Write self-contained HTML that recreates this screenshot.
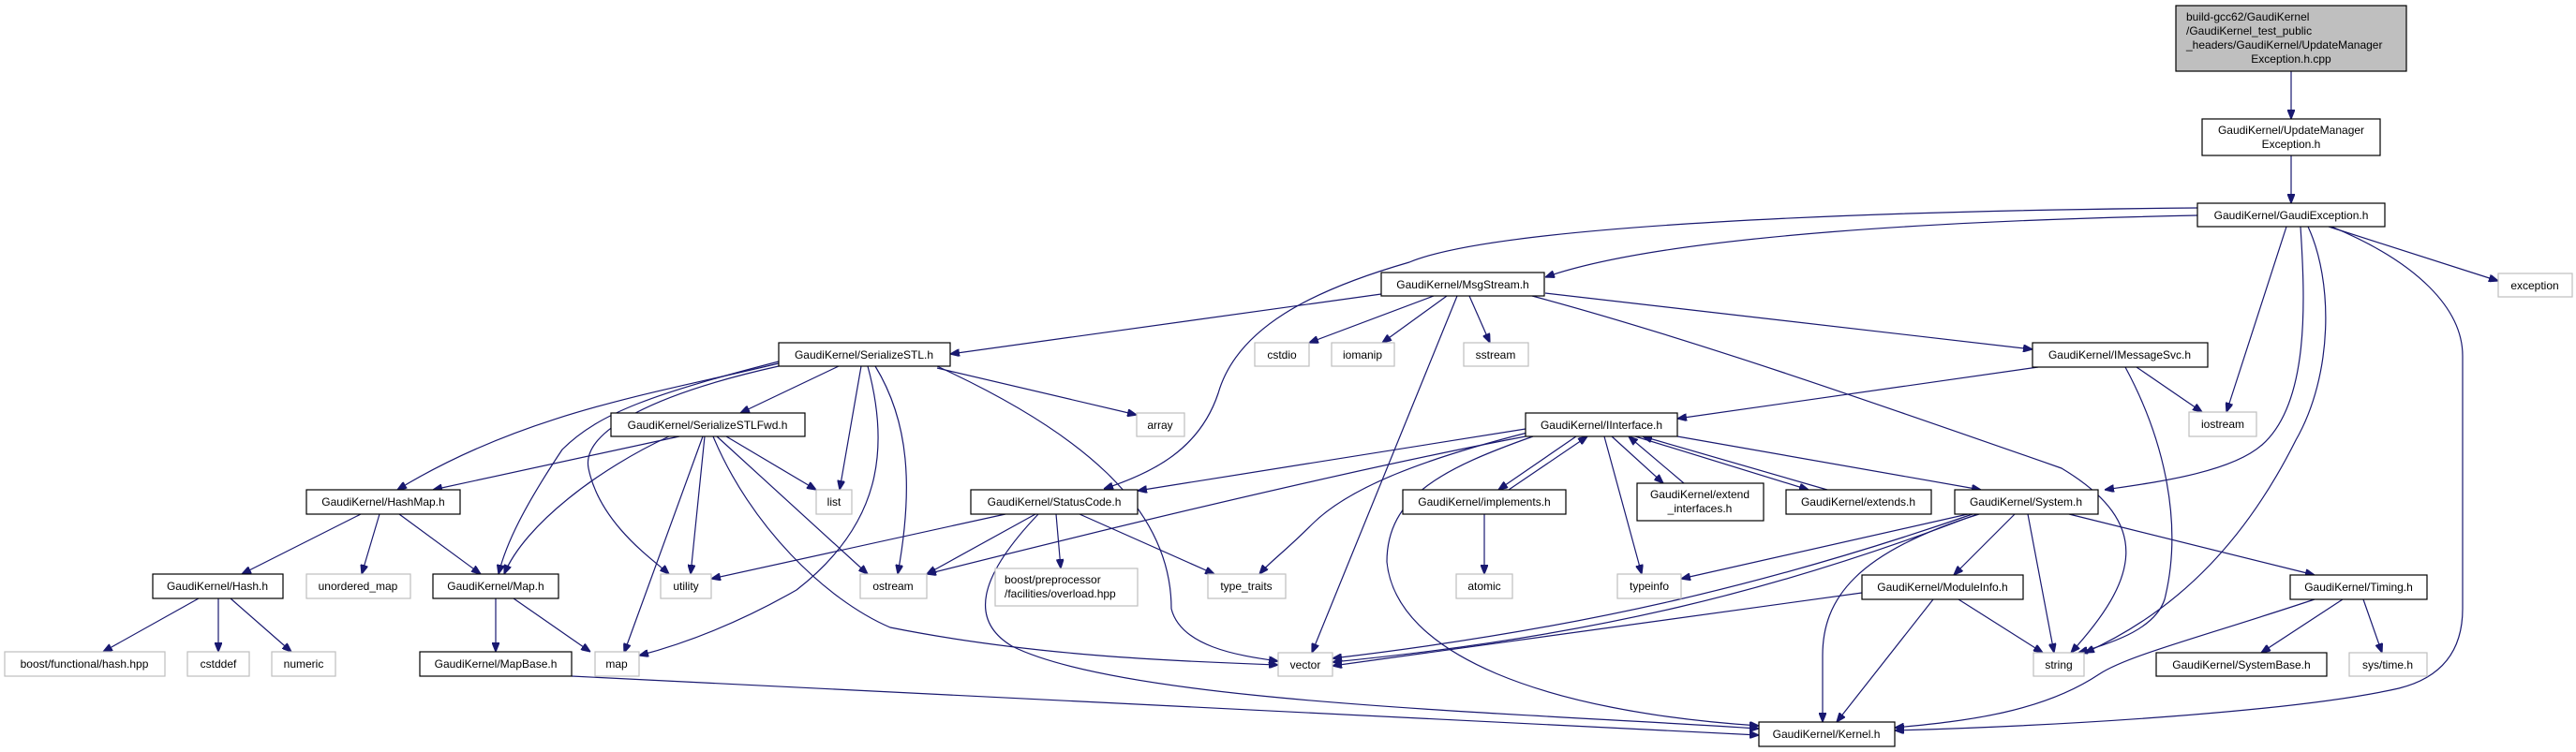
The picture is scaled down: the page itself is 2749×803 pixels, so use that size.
<!DOCTYPE html>
<html><head><meta charset="utf-8"><style>
html,body{margin:0;padding:0;background:#fff;}
svg{display:block;}
text{font-family:"Liberation Sans",sans-serif;font-size:12px;fill:#000;}
.n rect{fill:#fff;stroke:#000;stroke-width:1.2;}
.s rect{fill:#fff;stroke:#bfbfbf;stroke-width:1.2;}
path{fill:none;stroke:#191970;stroke-width:1.2;}
</style></head><body>
<svg width="2749" height="803" viewBox="0 0 2749 803" xmlns="http://www.w3.org/2000/svg">
<defs><marker id="a" viewBox="0 0 10 8" refX="10" refY="4" markerWidth="10" markerHeight="8" markerUnits="userSpaceOnUse" orient="auto"><path d="M0,0 L10,4 L0,8 z" style="fill:#191970;stroke:#191970"/></marker></defs>
<g marker-end="url(#a)">
<path d="M2445,76 L2445,127"/>
<path d="M2445,166 L2445,217"/>
<path d="M2345,230 C2100,235 1780,250 1649,296"/>
<path d="M2345,222 C2000,225 1600,240 1504,280 C1400,310 1320,350 1300,420 C1280,480 1230,505 1178,522"/>
<path d="M2485,242 L2666,300"/>
<path d="M2440,242 L2376,440"/>
<path d="M2455,242 C2460,320 2465,430 2414,475 C2380,505 2300,515 2246,523"/>
<path d="M2463,242 C2490,300 2490,400 2450,470 C2400,570 2330,650 2225,697"/>
<path d="M2488,242 C2580,280 2628,330 2628,380 L2628,650 C2628,700 2600,725 2560,735 C2450,760 2200,775 2022,780"/>
<path d="M1474,314 L1014,378"/>
<path d="M1530,316 L1397,366"/>
<path d="M1544,316 L1475,366"/>
<path d="M1568,316 L1590,366"/>
<path d="M1555,316 L1400,697"/>
<path d="M1649,313 L2169,373"/>
<path d="M1635,316 C1800,360 2000,430 2200,500 C2300,560 2280,620 2210,697"/>
<path d="M2175,392 L1790,447"/>
<path d="M2280,392 L2350,440"/>
<path d="M2268,392 C2310,470 2330,560 2310,640 C2300,670 2260,685 2218,697"/>
<path d="M831,388 C700,420 560,440 424,523"/>
<path d="M895,391 L790,441"/>
<path d="M831,386 C700,420 640,440 600,480 C560,540 540,580 532,613"/>
<path d="M831,391 C700,420 620,460 628,500 C640,560 700,600 714,613"/>
<path d="M919,391 L896,523"/>
<path d="M926,391 C950,480 940,560 850,630 C780,670 720,690 682,700"/>
<path d="M934,391 C970,450 975,520 958,613"/>
<path d="M1000,391 C1150,460 1250,540 1250,650 C1260,690 1320,700 1364,706"/>
<path d="M1000,393 L1213,443"/>
<path d="M714,466 C640,500 560,560 538,613"/>
<path d="M725,466 L462,523"/>
<path d="M775,466 L871,523"/>
<path d="M750,466 L666,697"/>
<path d="M752,466 L737,613"/>
<path d="M765,466 L926,613"/>
<path d="M761,466 C800,560 880,640 950,670 C1100,700 1250,706 1364,710"/>
<path d="M385,549 L258,613"/>
<path d="M405,549 L386,613"/>
<path d="M426,549 L513,613"/>
<path d="M212,639 L110,696"/>
<path d="M233,639 L233,696"/>
<path d="M246,639 L311,696"/>
<path d="M529,639 L529,696"/>
<path d="M548,639 L630,696"/>
<path d="M610,722 L1877,785"/>
<path d="M1628,458 L1214,524"/>
<path d="M1628,466 C1450,500 1200,560 989,613"/>
<path d="M1630,462 C1520,490 1440,520 1400,560 C1370,590 1355,600 1344,613"/>
<path d="M1636,466 C1540,500 1480,530 1480,600 C1490,700 1650,760 1877,775"/>
<path d="M1682,466 L1599,523"/>
<path d="M1610,523 L1694,466"/>
<path d="M1720,466 L1775,516"/>
<path d="M1797,516 L1738,466"/>
<path d="M1745,466 L1930,523"/>
<path d="M1950,523 L1753,466"/>
<path d="M1712,466 L1752,613"/>
<path d="M1790,466 L2114,523"/>
<path d="M1584,549 L1584,613"/>
<path d="M2100,549 L1794,618"/>
<path d="M2105,549 C1900,620 1700,670 1422,703"/>
<path d="M2110,549 C1900,630 1700,680 1422,707"/>
<path d="M2150,549 L2085,614"/>
<path d="M2164,549 L2192,697"/>
<path d="M2208,549 L2470,614"/>
<path d="M2112,549 C1980,590 1945,640 1945,700 L1945,771"/>
<path d="M1987,633 L1422,711"/>
<path d="M2090,640 L2180,697"/>
<path d="M2063,640 L1960,771"/>
<path d="M2500,640 L2413,697"/>
<path d="M2522,640 L2542,697"/>
<path d="M2470,640 C2350,680 2270,700 2240,720 C2180,760 2100,770 2022,777"/>
<path d="M1073,549 L759,618"/>
<path d="M1105,549 L989,613"/>
<path d="M1127,549 L1132,607"/>
<path d="M1152,549 L1296,613"/>
<path d="M1108,549 C1050,610 1030,660 1080,690 C1200,750 1600,760 1877,778"/>
</g>
<rect x="2322" y="6" width="246" height="70" style="fill:#bfbfbf;stroke:#000;stroke-width:1.2"/>
<text x="2333" y="22">build-gcc62/GaudiKernel</text>
<text x="2333" y="37">/GaudiKernel_test_public</text>
<text x="2333" y="52">_headers/GaudiKernel/UpdateManager</text>
<text x="2445" y="67" text-anchor="middle">Exception.h.cpp</text>
<g class="n">
<rect x="2350" y="127" width="190" height="39"/><text x="2445" y="143" text-anchor="middle">GaudiKernel/UpdateManager</text><text x="2445" y="158" text-anchor="middle">Exception.h</text>
<rect x="2345" y="217" width="200" height="25"/><text x="2445" y="234" text-anchor="middle">GaudiKernel/GaudiException.h</text>
<rect x="1474" y="291" width="174" height="25"/><text x="1561" y="308" text-anchor="middle">GaudiKernel/MsgStream.h</text>
<rect x="831" y="366" width="183" height="25"/><text x="922" y="383" text-anchor="middle">GaudiKernel/SerializeSTL.h</text>
<rect x="2169" y="366" width="187" height="26"/><text x="2262" y="383" text-anchor="middle">GaudiKernel/IMessageSvc.h</text>
<rect x="652" y="441" width="207" height="25"/><text x="755" y="458" text-anchor="middle">GaudiKernel/SerializeSTLFwd.h</text>
<rect x="1628" y="441" width="162" height="25"/><text x="1709" y="458" text-anchor="middle">GaudiKernel/IInterface.h</text>
<rect x="327" y="523" width="164" height="26"/><text x="409" y="540" text-anchor="middle">GaudiKernel/HashMap.h</text>
<rect x="1036" y="523" width="178" height="26"/><text x="1125" y="540" text-anchor="middle">GaudiKernel/StatusCode.h</text>
<rect x="1497" y="523" width="174" height="26"/><text x="1584" y="540" text-anchor="middle">GaudiKernel/implements.h</text>
<rect x="1747" y="516" width="135" height="40"/><text x="1814" y="532" text-anchor="middle">GaudiKernel/extend</text><text x="1814" y="547" text-anchor="middle">_interfaces.h</text>
<rect x="1906" y="523" width="155" height="26"/><text x="1983" y="540" text-anchor="middle">GaudiKernel/extends.h</text>
<rect x="2086" y="523" width="153" height="26"/><text x="2162" y="540" text-anchor="middle">GaudiKernel/System.h</text>
<rect x="163" y="613" width="139" height="26"/><text x="232" y="630" text-anchor="middle">GaudiKernel/Hash.h</text>
<rect x="462" y="613" width="134" height="26"/><text x="529" y="630" text-anchor="middle">GaudiKernel/Map.h</text>
<rect x="1987" y="614" width="172" height="26"/><text x="2073" y="631" text-anchor="middle">GaudiKernel/ModuleInfo.h</text>
<rect x="2444" y="614" width="146" height="26"/><text x="2517" y="631" text-anchor="middle">GaudiKernel/Timing.h</text>
<rect x="448" y="696" width="162" height="26"/><text x="529" y="713" text-anchor="middle">GaudiKernel/MapBase.h</text>
<rect x="2301" y="697" width="182" height="25"/><text x="2392" y="714" text-anchor="middle">GaudiKernel/SystemBase.h</text>
<rect x="1877" y="771" width="145" height="26"/><text x="1949" y="788" text-anchor="middle">GaudiKernel/Kernel.h</text>
</g>
<g class="s">
<rect x="2666" y="292" width="79" height="25"/><text x="2705" y="309" text-anchor="middle">exception</text>
<rect x="1339" y="366" width="58" height="25"/><text x="1368" y="383" text-anchor="middle">cstdio</text>
<rect x="1421" y="366" width="67" height="25"/><text x="1454" y="383" text-anchor="middle">iomanip</text>
<rect x="1562" y="366" width="69" height="25"/><text x="1596" y="383" text-anchor="middle">sstream</text>
<rect x="1213" y="441" width="51" height="25"/><text x="1238" y="458" text-anchor="middle">array</text>
<rect x="2336" y="440" width="72" height="26"/><text x="2372" y="457" text-anchor="middle">iostream</text>
<rect x="871" y="523" width="38" height="26"/><text x="890" y="540" text-anchor="middle">list</text>
<rect x="327" y="613" width="111" height="26"/><text x="382" y="630" text-anchor="middle">unordered_map</text>
<rect x="705" y="613" width="54" height="26"/><text x="732" y="630" text-anchor="middle">utility</text>
<rect x="918" y="613" width="71" height="26"/><text x="953" y="630" text-anchor="middle">ostream</text>
<rect x="1062" y="607" width="152" height="40"/><text x="1072" y="623">boost/preprocessor</text><text x="1072" y="638">/facilities/overload.hpp</text>
<rect x="1289" y="613" width="83" height="26"/><text x="1330" y="630" text-anchor="middle">type_traits</text>
<rect x="1554" y="613" width="60" height="26"/><text x="1584" y="630" text-anchor="middle">atomic</text>
<rect x="1726" y="613" width="68" height="26"/><text x="1760" y="630" text-anchor="middle">typeinfo</text>
<rect x="5" y="696" width="171" height="26"/><text x="90" y="713" text-anchor="middle">boost/functional/hash.hpp</text>
<rect x="200" y="696" width="66" height="26"/><text x="233" y="713" text-anchor="middle">cstddef</text>
<rect x="290" y="696" width="68" height="26"/><text x="324" y="713" text-anchor="middle">numeric</text>
<rect x="635" y="696" width="47" height="26"/><text x="658" y="713" text-anchor="middle">map</text>
<rect x="1364" y="697" width="58" height="25"/><text x="1393" y="714" text-anchor="middle">vector</text>
<rect x="2170" y="697" width="54" height="25"/><text x="2197" y="714" text-anchor="middle">string</text>
<rect x="2507" y="697" width="83" height="25"/><text x="2548" y="714" text-anchor="middle">sys/time.h</text>
</g>
</svg>
</body></html>
